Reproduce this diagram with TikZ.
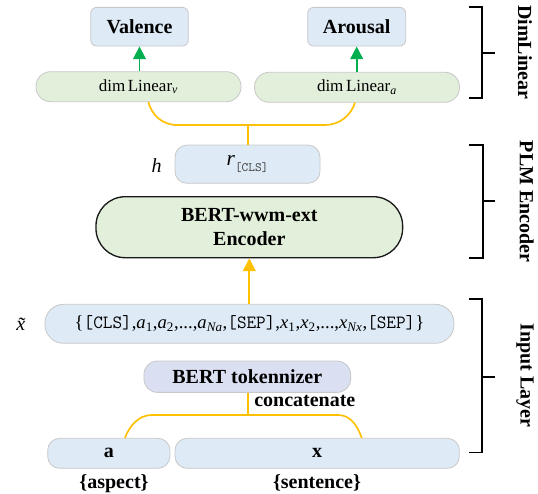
\documentclass[tikz,border=0pt]{standalone}
\usepackage{fontspec}
\setmainfont{Liberation Serif}
\usetikzlibrary{arrows.meta,calc}
\definecolor{boxblue}{HTML}{DEEAF6}
\definecolor{boxgreen}{HTML}{E2EFDA}
\definecolor{boxlav}{HTML}{DAE0F2}
\definecolor{boxedge}{HTML}{C8C8C8}
\definecolor{feedyellow}{HTML}{FFC000}
\definecolor{arrowgreen}{HTML}{00B050}
\tikzset{
  box/.style={draw=boxedge,line width=0.6pt,inner sep=0pt,align=center},
  lbl/.style={font=\fontsize{15}{18}\selectfont\bfseries},
  feed/.style={draw=feedyellow,line width=1.25pt},
  upgreen/.style={draw=arrowgreen,line width=1.3pt},
  bracket/.style={draw=black,line width=1.3pt},
  tip/.style={-{Triangle[length=9.5pt,width=9.5pt]}}
}
\begin{document}
\begin{tikzpicture}[x=0.75pt,y=-0.75pt]
\useasboundingbox (0,0) rectangle (538,493);

% output heads
\node[box,fill=boxblue,minimum width=73.2pt,minimum height=29pt,rounded corners=4.5pt,lbl] (val) at (139.5,26.7) {Valence};
\node[box,fill=boxblue,minimum width=73.5pt,minimum height=29pt,rounded corners=4.5pt,lbl] (aro) at (356.7,26.7) {Arousal};
\node[box,fill=boxgreen,minimum width=153.75pt,minimum height=22.5pt,rounded corners=11pt,font=\fontsize{12.75}{15}\selectfont] (dimv) at (138.5,86.7) {dim\hspace{0.15em}Linear\textsubscript{\textit{v}}};
\node[box,fill=boxgreen,minimum width=153.75pt,minimum height=22.5pt,rounded corners=11pt,font=\fontsize{12.75}{15}\selectfont] (dima) at (357,87.3) {dim\hspace{0.15em}Linear\textsubscript{\textit{a}}};

% encoder
\node[box,fill=boxblue,minimum width=108.75pt,minimum height=28.7pt,rounded corners=9pt,font=\fontsize{16}{18}\selectfont] (rcls) at (247.5,164.2) {\textit{r}\raisebox{-0.6ex}{\fontsize{9.5}{9.5}\selectfont\ttfamily\color{darkgray}[CLS]}};
\node[font=\fontsize{15}{18}\selectfont\itshape] (hlbl) at (156.7,166) {h};
\node[draw=black!90,line width=1pt,fill=boxgreen,minimum width=230pt,minimum height=45.75pt,rounded corners=22pt,lbl,align=center,inner sep=0pt,font=\fontsize{15}{17.5}\selectfont\bfseries] (enc) at (249.3,227.2) {BERT-wwm-ext\\Encoder};

% input layer
\node[box,fill=boxblue,minimum width=306.75pt,minimum height=29.25pt,rounded corners=14pt,font=\fontsize{14}{15}\selectfont] (xt) at (249.5,323.8)
  {\{\texttt{[CLS]},\textit{a}\textsubscript{1},\textit{a}\textsubscript{2},...,\textit{a}\textsubscript{\textit{Na}},\texttt{[SEP]},\textit{x}\textsubscript{1},\textit{x}\textsubscript{2},...,\textit{x}\textsubscript{\textit{Nx}},\texttt{[SEP]}\}};
\node[font=\fontsize{15}{18}\selectfont\itshape] (xtl) at (20.7,324.3) {\~{x}};
\node[box,fill=boxlav,minimum width=155pt,minimum height=23.5pt,rounded corners=10pt,lbl] (tok) at (247.3,376.7) {BERT tokennizer};
\node[lbl,anchor=west,inner sep=0pt] (cat) at (254,400.7) {concatenate};
\node[box,fill=boxblue,minimum width=91.7pt,minimum height=22.5pt,rounded corners=9pt,lbl] (abox) at (108.8,453.3) {a};
\node[box,fill=boxblue,minimum width=213.2pt,minimum height=22.5pt,rounded corners=9pt,lbl] (xbox) at (317.2,453.3) {x};
\node[lbl] (asp) at (114,483.3) {\{aspect\}};
\node[lbl] (sen) at (317,483) {\{sentence\}};

% connectors
\draw[upgreen,tip] (val.south |- dimv.north) -- (val.south);
\draw[upgreen,tip] (aro.south |- dima.north) -- (aro.south);

\coordinate (jtop) at (248.3,125);
\draw[feed] ($(dimv.south)+(9.8,0)$) .. controls (152,115) and (162,125) .. (177.3,125)
  -- (325,125) .. controls (340,125) and (351,115) .. ($(dima.south)+(-2,0)$);
\draw[feed] (jtop) -- (jtop |- rcls.north);

\draw[feed,tip] (xt.north -| enc.south) -- (enc.south);

\coordinate (jbot) at (248.3,415);
\draw[feed] (jbot |- tok.south) -- (jbot);
\draw[feed] ($(abox.north)+(16.2,0)$) .. controls (129,427) and (138,415) .. (151.7,415)
  -- (338.3,415) .. controls (351,415) and (358,427) .. ($(xbox.north)+(44.5,0)$);

% layer brackets
\draw[bracket] (469.3,7.3) -- (482.3,7.3) -- (482.3,98.3) -- (469.3,98.3);
\draw[bracket] (482.3,52.7) -- (495,52.7);
\node[lbl,rotate=-90] (ldim) at (525,52.3) {DimLinear};

\draw[bracket] (469,145) -- (482.7,145) -- (482.7,257.7) -- (469,257.7);
\draw[bracket] (482.7,201) -- (495,201);
\node[lbl,rotate=-90] (lplm) at (526.7,201.7) {PLM Encoder};

\draw[bracket] (469.3,299.3) -- (482.3,299.3) -- (482.3,452.5) -- (469.3,452.5);
\draw[bracket] (482.3,376.7) -- (495,376.7);
\node[lbl,rotate=-90] (linp) at (525,375.8) {Input Layer};
\end{tikzpicture}
\end{document}
